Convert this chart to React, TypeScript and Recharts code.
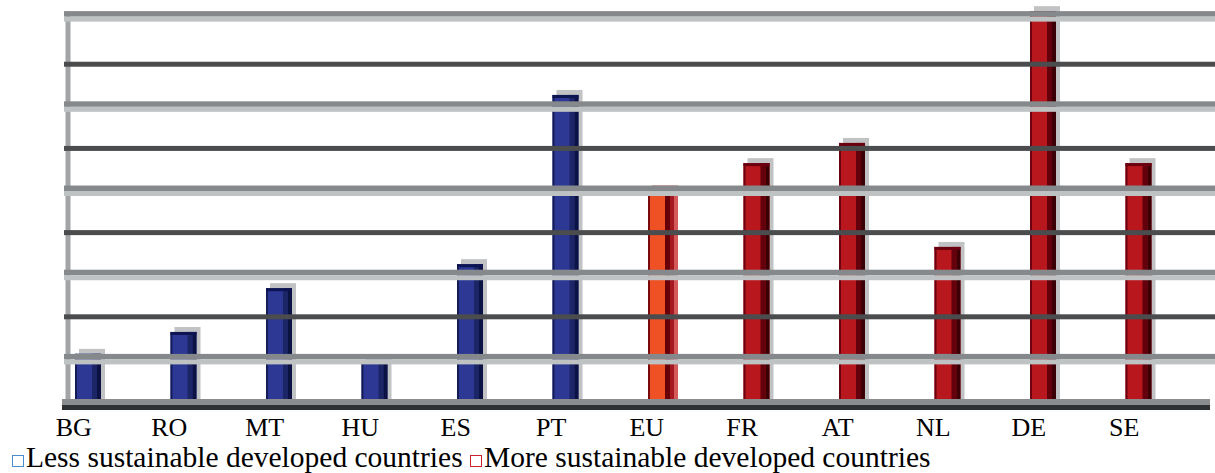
import React from 'react';
import { BarChart, Bar, XAxis, YAxis, ReferenceLine, ReferenceArea } from 'recharts';

// values are read off the picture in gridline units (no scale is printed)
const countries = ['BG', 'RO', 'MT', 'HU', 'ES', 'PT', 'EU', 'FR', 'AT', 'NL', 'DE', 'SE'];
const lessValues = [1.12, 1.64, 2.68, 0.97, 3.25, 7.27, null, null, null, null, null, null];
const moreValues = [null, null, null, null, null, null, 5.0, 5.65, 6.13, 3.66, 9.26, 5.65];
const highlighted = ['EU'];
const gridTicks = [0, 1, 2, 3, 4, 5, 6, 7, 8, 9];
const seriesNames = ['Less sustainable developed countries', 'More sustainable developed countries'];

const data = countries.map((c, i) => ({ country: c, less: lessValues[i], more: moreValues[i] }));

const FONT = "'Liberation Serif', 'DejaVu Serif', serif";
const DEPTH_X = -24; // front face of the 3-D bars sits left of the category slot
const DEPTH_Y = 9;

const tones = {
  blue: { face: '#2c3894', edge: '#141c58', side: '#1c2566', back: '#0c1244', cap: '#0d1452', shadow: '#c0c2c3' },
  red: { face: '#b9171e', edge: '#6a0010', side: '#64000b', back: '#3a0006', cap: '#6a0010', shadow: '#c0c2c3' },
  orange: { face: '#ef5024', edge: '#7a0a0a', side: '#680008', back: '#a51820', cap: '#6a0010', shadow: '#d45a5a' },
};

function Bar3D(props: any) {
  const { x, y, width, height, payload, tone } = props;
  if (!height || height <= 0.5) return null;
  const t = highlighted.includes(payload.country) ? tones.orange : tones[tone as 'blue' | 'red'];
  const left = x + DEPTH_X;
  const h = height + DEPTH_Y;
  const w = width;
  return (
    <g>
      <rect x={left + 4} y={y - 5} width={w} height={h} fill={t.shadow} />
      <rect x={left} y={y} width={w} height={h} fill={t.face} />
      <rect x={left} y={y} width={2} height={h} fill={t.edge} />
      <rect x={left + w - 9} y={y} width={5} height={h} fill={t.side} />
      <rect x={left + w - 4} y={y} width={4} height={h} fill={t.back} />
      <rect x={left} y={y} width={w} height={3} fill={t.cap} />
    </g>
  );
}

function GridBand(props: any) {
  const { x1, x2, y1, value } = props;
  const len = x2 - x1 + 5;
  if (value % 2 === 1) {
    // the top wall edge sits a little higher than the regular spacing
    const top = value === gridTicks[gridTicks.length - 1] ? y1 - 11 : y1 - 5;
    return (
      <g>
        <rect x={x1} y={top} width={len} height={5.5} fill="#86898b" />
        <rect x={x1} y={top + 5.5} width={len} height={5} fill="#bfc2c3" />
      </g>
    );
  }
  return <rect x={x1} y={y1 - 2.5} width={len} height={5} fill="#4b4c4e" />;
}

function BaseBand(props: any) {
  const { x1, x2, y1 } = props;
  return (
    <g>
      <rect x={x1 - 2} y={y1 - 2} width={x2 - x1 + 2} height={6} fill="#8a8c8d" />
      <rect x={x1 - 2} y={y1 + 4} width={x2 - x1 + 2} height={5} fill="#2e3133" />
    </g>
  );
}

function WallStrip(props: any) {
  const { x, y, height } = props;
  return <rect x={x + 1.5} y={y + 2} width={5} height={height - 2} fill="#a2a4a5" />;
}

function CountryTick(props: any) {
  const { x, y, payload } = props;
  return (
    <text x={x + DEPTH_X - 14} y={y + 27} textAnchor="middle" fontFamily={FONT} fontSize={26} fill="#000">
      {payload.value}
    </text>
  );
}

const legendColors = ['#4a8fce', '#c8262c'];

export default function App() {
  return (
    <div style={{ position: 'absolute', left: 0, top: 0, width: 1215, height: 473, background: '#fff', fontFamily: FONT }}>
      <BarChart
        width={1215}
        height={441}
        data={data}
        margin={{ top: 9.5, right: 5, bottom: 0, left: 64 }}
        barSize={26}
      >
        <XAxis dataKey="country" axisLine={false} tickLine={false} height={40} tick={<CountryTick />} interval={0} />
        <YAxis
          width={0}
          domain={[0, 9.3]}
          ticks={gridTicks}
          tick={false}
          tickLine={false}
          axisLine={{ stroke: '#35373a', strokeWidth: 3 }}
        />
        <ReferenceArea y1={0} y2={9.3} shape={<WallStrip />} fill="none" />
        {gridTicks.slice(1).map((t) => (
          <ReferenceLine key={t} y={t} shape={(p: any) => <GridBand {...p} value={t} />} />
        ))}
        <ReferenceLine y={0} shape={(p: any) => <BaseBand {...p} />} />
        <Bar dataKey="less" name={seriesNames[0]} stackId="g" isAnimationActive={false} shape={(p: any) => <Bar3D {...p} tone="blue" />} />
        <Bar dataKey="more" name={seriesNames[1]} stackId="g" isAnimationActive={false} shape={(p: any) => <Bar3D {...p} tone="red" />} />
      </BarChart>
      <div
        style={{
          position: 'absolute',
          left: 12,
          top: 441,
          fontFamily: FONT,
          fontSize: 29.5,
          lineHeight: '32px',
          whiteSpace: 'nowrap',
          color: '#000',
        }}
      >
        {seriesNames.map((name, i) => (
          <span key={name}>
            <span
              style={{
                display: 'inline-block',
                width: 10,
                height: 10,
                border: `1.5px solid ${legendColors[i]}`,
                marginRight: 2,
              }}
            />
            {name}
            {i === 0 ? ' ' : ''}
          </span>
        ))}
      </div>
    </div>
  );
}
